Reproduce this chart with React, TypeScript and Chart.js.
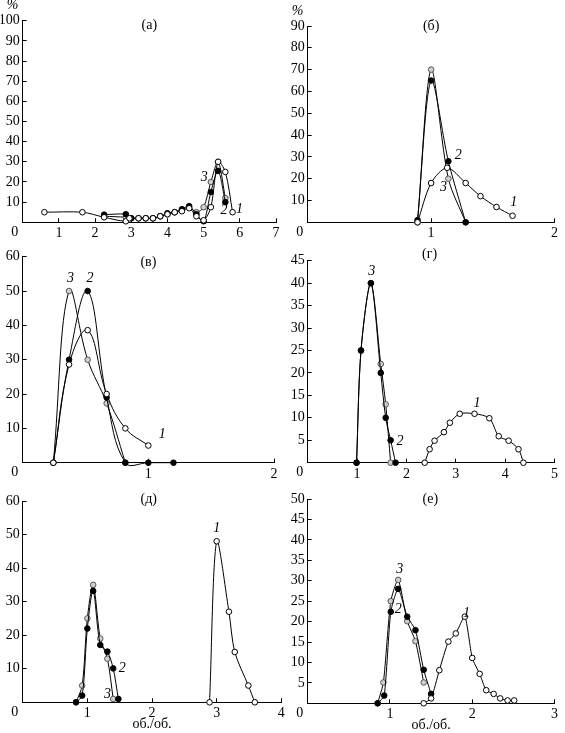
import React, { useEffect, useRef } from "react";
import { Chart, registerables } from "chart.js";
Chart.register(...registerables);

type P = [number, number];

// ---------- Panel (а) ----------
const a1: P[] = [[0.6, 5], [1.65, 5], [2.25, 2.5], [2.85, 0.5], [2.95, 2], [3.2, 2], [3.4, 2], [3.6, 2], [3.8, 3], [4.0, 4], [4.2, 5], [4.4, 5.5], [4.6, 7], [4.8, 3], [5.0, 1], [5.2, 7.5], [5.4, 30], [5.6, 25], [5.8, 5]];
const a2: P[] = [[2.25, 3.8], [2.85, 4], [3.0, 2], [3.2, 2], [3.4, 2], [3.6, 2], [3.8, 3], [4.0, 4.5], [4.2, 5], [4.4, 6.5], [4.6, 8], [4.8, 4], [5.0, 0.5], [5.2, 15], [5.4, 25.5], [5.6, 10]];
const a3: P[] = [[2.25, 3], [2.85, 2.5], [3.0, 2], [3.2, 2], [3.4, 2], [3.6, 2], [3.8, 3], [4.0, 4], [4.2, 5], [4.4, 6], [4.6, 7.5], [4.8, 5], [5.0, 7.5], [5.2, 20], [5.4, 30], [5.6, 12]];

// ---------- Panel (б) ----------
const b1: P[] = [[0.89, 0], [1.0, 18], [1.13, 25], [1.28, 18], [1.4, 12], [1.53, 7], [1.66, 3]];
const b2: P[] = [[0.89, 1], [1.0, 65], [1.14, 28], [1.28, 0]];
const b3: P[] = [[0.89, 0], [1.0, 70], [1.14, 20], [1.28, 0]];

// ---------- Panel (в) ----------
const v1: P[] = [[0.244, 0], [0.369, 28.6], [0.517, 38.6], [0.668, 20], [0.817, 10], [1.0, 5]];
const v2: P[] = [[0.244, 0], [0.369, 30], [0.517, 50], [0.668, 19], [0.817, 0], [1.0, 0], [1.2, 0]];
const v3: P[] = [[0.244, 0], [0.369, 50], [0.517, 30], [0.668, 17.3], [0.817, 0]];

// ---------- Panel (г) ----------
const g1: P[] = [[2.37, 0], [2.47, 3], [2.57, 4.9], [2.76, 6.8], [2.88, 8.9], [3.08, 10.9], [3.38, 10.9], [3.68, 9.9], [3.87, 5.9], [4.07, 4.9], [4.27, 3], [4.37, 0]];
const g2: P[] = [[0.99, 0], [1.08, 25], [1.28, 40], [1.48, 20], [1.58, 10], [1.68, 5], [1.78, 0]];
const g3: P[] = [[0.99, 0], [1.08, 25], [1.28, 40], [1.48, 22], [1.58, 13], [1.68, 0]];

// ---------- Panel (д) ----------
const d1: P[] = [[2.89, 0], [3.0, 48], [3.19, 27], [3.28, 15], [3.49, 5], [3.59, 0]];
const d2: P[] = [[0.825, 0], [0.92, 2], [1.0, 22], [1.09, 33.2], [1.2, 17.1], [1.31, 15.1], [1.4, 10.1], [1.48, 1]];
const d3: P[] = [[0.825, 0], [0.92, 5], [1.0, 25], [1.09, 35], [1.2, 19], [1.31, 13], [1.4, 1]];

// ---------- Panel (е) ----------
const e1: P[] = [[1.41, 0], [1.5, 1.2], [1.6, 8.1], [1.71, 15.1], [1.8, 17.1], [1.91, 21.2], [2.0, 11.1], [2.09, 7.2], [2.17, 3.2], [2.26, 2.3], [2.34, 1.2], [2.43, 0.7], [2.51, 0.7]];
const e2: P[] = [[0.85, 0], [0.93, 1.9], [1.01, 22.4], [1.1, 28], [1.21, 21.2], [1.31, 17.9], [1.41, 8.2], [1.5, 2.3]];
const e3: P[] = [[0.85, 0], [0.92, 5.1], [1.01, 25], [1.1, 30.2], [1.21, 20.1], [1.31, 15.2], [1.41, 5.1]];

const panelTitles = ["(а)", "(б)", "(в)", "(г)", "(д)", "(е)"];
const unitLabel = "%";
const xAxisLabel = "об./об.";

type Note = { t: string; x: number; y: number; it?: boolean };

interface Panel {
  area: { l: number; t: number; r: number; b: number };
  xMax: number;
  xStep: number;
  yMax: number;
  yStep: number;
  series: P[][];
  tension: number;
  notes: Note[];
  pct?: boolean;
  xlab?: boolean;
}

const panels: Panel[] = [
  {
    area: { l: 22.7, t: 20.7, r: 276, b: 222.3 }, xMax: 7, xStep: 1, yMax: 100, yStep: 10,
    series: [a1, a2, a3], tension: 0.3, pct: true,
    notes: [{ t: panelTitles[0], x: 3.5, y: 97.5 }, { t: "3", x: 5.02, y: 22.3, it: true }, { t: "2", x: 5.56, y: 5.8, it: true }, { t: "1", x: 5.99, y: 6.6, it: true }],
  },
  {
    area: { l: 307.7, t: 26, r: 555.7, b: 222.3 }, xMax: 2, xStep: 1, yMax: 90, yStep: 10,
    series: [b1, b2, b3], tension: 0.3, pct: true,
    notes: [{ t: panelTitles[1], x: 1.0, y: 90 }, { t: "2", x: 1.22, y: 30.6, it: true }, { t: "3", x: 1.1, y: 15.9, it: true }, { t: "1", x: 1.67, y: 9, it: true }],
  },
  {
    area: { l: 22.7, t: 256.7, r: 274, b: 462.7 }, xMax: 2, xStep: 1, yMax: 60, yStep: 10,
    series: [v1, v2, v3], tension: 0.4,
    notes: [{ t: panelTitles[2], x: 1.0, y: 58.5 }, { t: "3", x: 0.38, y: 53.7, it: true }, { t: "2", x: 0.536, y: 53.7, it: true }, { t: "1", x: 1.11, y: 8.3, it: true }],
  },
  {
    area: { l: 307.7, t: 260.7, r: 560.3, b: 462.7 }, xMax: 5, xStep: 1, yMax: 45, yStep: 5,
    series: [g1, g2, g3], tension: 0.3,
    notes: [{ t: panelTitles[3], x: 2.47, y: 46.5 }, { t: "3", x: 1.3, y: 42.7, it: true }, { t: "2", x: 1.87, y: 4.7, it: true }, { t: "1", x: 3.43, y: 13.2, it: true }],
  },
  {
    area: { l: 22.7, t: 501, r: 281.3, b: 702.3 }, xMax: 4, xStep: 1, yMax: 60, yStep: 10,
    series: [d1, d2, d3], tension: 0.3, xlab: true,
    notes: [{ t: panelTitles[4], x: 1.95, y: 60.6 }, { t: "1", x: 3.0, y: 51.8, it: true }, { t: "2", x: 1.54, y: 10.1, it: true }, { t: "3", x: 1.31, y: 2.4, it: true }],
  },
  {
    area: { l: 307.7, t: 499, r: 560.3, b: 703.3 }, xMax: 3, xStep: 1, yMax: 50, yStep: 5,
    series: [e1, e2, e3], tension: 0.2, xlab: true,
    notes: [{ t: panelTitles[5], x: 1.49, y: 50 }, { t: "3", x: 1.12, y: 32.9, it: true }, { t: "2", x: 1.1, y: 23, it: true }, { t: "1", x: 1.93, y: 22, it: true }],
  },
];

const W = 565;
const H = 733;
const YW = 22;
const XH = 20;
const SERIF = '"Liberation Serif", "Times New Roman", serif';
const FS = 14;
const pointFill = ["#ffffff", "#000000", "#cfcfcf"];
const pointStroke = ["#000000", "#000000", "#555555"];

function makeChart(canvas: HTMLCanvasElement, p: Panel) {
  const notesPlugin = {
    id: "notes",
    afterDatasetsDraw(chart: any) {
      const { ctx, chartArea } = chart;
      const xs = chart.scales.x;
      const ys = chart.scales.y;
      ctx.save();
      ctx.fillStyle = "#000";
      ctx.textAlign = "center";
      ctx.textBaseline = "middle";
      for (const n of p.notes) {
        ctx.font = `${n.it ? "italic " : ""}${FS}px ${SERIF}`;
        ctx.fillText(n.t, xs.getPixelForValue(n.x), ys.getPixelForValue(n.y));
      }
      ctx.font = `${FS}px ${SERIF}`;
      ctx.fillText("0", chartArea.left - 8, chartArea.bottom + 10);
      if (p.pct) {
        ctx.font = `italic ${FS}px ${SERIF}`;
        ctx.fillText(unitLabel, chartArea.left - 10, chartArea.top - 15);
      }
      if (p.xlab) {
        ctx.font = `${FS}px ${SERIF}`;
        ctx.fillText(xAxisLabel, (chartArea.left + chartArea.right) / 2, chartArea.bottom + 22);
      }
      ctx.restore();
    },
  };

  const font = { family: SERIF, size: FS };
  return new Chart(canvas, {
    type: "line",
    data: {
      datasets: p.series.map((pts, i) => ({
        data: pts.map(([x, y]) => ({ x, y })),
        borderColor: "#000",
        borderWidth: 1,
        pointRadius: 2.8,
        pointBorderWidth: 1,
        pointBackgroundColor: pointFill[i],
        pointBorderColor: pointStroke[i],
        tension: p.tension,
        capBezierPoints: false,
        clip: false as any,
        fill: false,
      })),
    },
    options: {
      animation: false,
      responsive: false,
      events: [],
      elements: { line: { capBezierPoints: false } },
      layout: {
        padding: { left: p.area.l - YW, top: p.area.t, right: W - p.area.r, bottom: H - p.area.b - XH },
      },
      plugins: { legend: { display: false }, tooltip: { enabled: false } },
      scales: {
        x: {
          type: "linear",
          min: 0,
          max: p.xMax,
          ticks: {
            stepSize: p.xStep,
            font,
            color: "#000",
            padding: 7,
            maxRotation: 0,
            autoSkip: false,
            callback: (v: any) => (v === 0 ? "" : String(v)),
          },
          grid: { drawOnChartArea: false, drawTicks: true, tickLength: -4, color: "#000", lineWidth: 1 },
          border: { display: true, color: "#000", width: 1 },
          afterFit: (s: any) => {
            s.height = XH;
          },
        },
        y: {
          type: "linear",
          min: 0,
          max: p.yMax,
          ticks: {
            stepSize: p.yStep,
            font,
            color: "#000",
            padding: 7,
            autoSkip: false,
            callback: (v: any) => (v === 0 ? "" : String(v)),
          },
          grid: { drawOnChartArea: false, drawTicks: true, tickLength: -4, color: "#000", lineWidth: 1 },
          border: { display: true, color: "#000", width: 1 },
          afterFit: (s: any) => {
            s.width = YW;
          },
        },
      },
    } as any,
    plugins: [notesPlugin],
  });
}

function PanelCanvas({ p }: { p: Panel }) {
  const ref = useRef<HTMLCanvasElement>(null);
  useEffect(() => {
    if (!ref.current) return;
    const c = makeChart(ref.current, p);
    return () => c.destroy();
  }, [p]);
  return (
    <canvas
      ref={ref}
      width={W}
      height={H}
      style={{ position: "absolute", left: 0, top: 0, width: W, height: H }}
    />
  );
}

export default function App() {
  return (
    <div style={{ position: "absolute", left: 0, top: 0, width: W, height: H, background: "#fff" }}>
      {panels.map((p, i) => (
        <PanelCanvas key={i} p={p} />
      ))}
    </div>
  );
}
